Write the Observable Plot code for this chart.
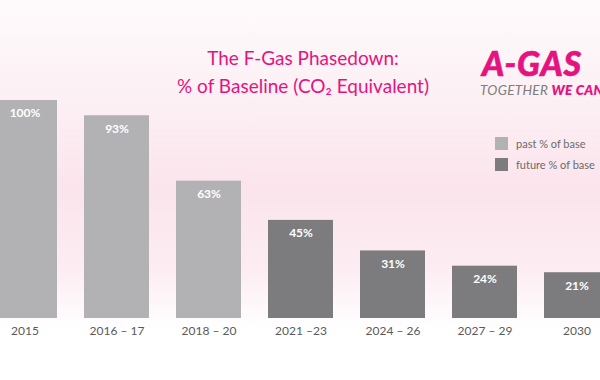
<!DOCTYPE html>
<html>
<head>
<meta charset="utf-8">
<script src="https://cdn.jsdelivr.net/npm/d3@7"></script>
<script src="https://cdn.jsdelivr.net/npm/@observablehq/plot@0.6"></script>
<style>
  html, body { margin: 0; padding: 0; }
  #wrap {
    position: relative; width: 600px; height: 380px; overflow: hidden;
    background: linear-gradient(180deg, #fefafb 0px, #fcf1f5 90px, #fbe4ec 190px, #fcedf2 270px, #ffffff 330px, #ffffff 380px);
    font-family: Lato, "Open Sans", sans-serif;
  }
  #wrap svg { position: absolute; left: 0; top: 0; background: transparent !important; }
  .title { position: absolute; left: 0; width: 606px; text-align: center; color: #e5137f; font-size: 19px; line-height: 1; }
  .logo { position: absolute; left: 482px; top: 46px; color: #e5137f; font-weight: 900; font-style: italic; font-size: 34px; line-height: 1; letter-spacing: 0.8px; white-space: nowrap; -webkit-text-stroke: 0.6px #e5137f; }
  .tag { position: absolute; left: 480px; top: 84px; font-style: italic; font-size: 13.5px; line-height: 1; white-space: nowrap; color: #7d7d7d; letter-spacing: 0.3px; }
  .tag b { color: #e5137f; font-weight: 800; }
  .leg { position: absolute; left: 495px; font-size: 11px; color: #6a6a6a; line-height: 13px; white-space: nowrap; }
  .leg span.sw { display: inline-block; width: 13px; height: 13px; vertical-align: top; margin-right: 8px; }
</style>
</head>
<body>
<div id="wrap">
  <div class="title" style="top:48px">The F-Gas Phasedown:</div>
  <div class="title" style="top:76px">% of Baseline (CO₂ Equivalent)</div>
  <div class="logo">A-GAS</div>
  <div class="tag">TOGETHER <b>WE CAN</b></div>
  <div class="leg" style="top:137px"><span class="sw" style="background:#b2b2b4"></span>past % of base</div>
  <div class="leg" style="top:158px"><span class="sw" style="background:#7c7c7e"></span>future % of base</div>
</div>
<script>
const periods = ["2015", "2016 – 17", "2018 – 20", "2021 –23", "2024 – 26", "2027 – 29", "2030"];
const percents = [100, 93, 63, 45, 31, 24, 21];
const phases = ["past", "past", "past", "future", "future", "future", "future"];

const data = periods.map((p, i) => ({period: p, value: percents[i], phase: phases[i]}));

const chart = Plot.plot({
  width: 600,
  height: 380,
  marginTop: 0,
  marginBottom: 62,
  marginLeft: 0,
  marginRight: 0,
  style: {background: "transparent", fontFamily: "Lato, 'Open Sans', sans-serif", overflow: "visible"},
  x: {domain: periods, range: [-23.25, 624.25], paddingInner: 0.297, paddingOuter: 0.1486, label: null},
  y: {domain: [0, 100], range: [318, 100], axis: null},
  color: {domain: ["past", "future"], range: ["#b2b2b4", "#7c7c7e"]},
  marks: [
    Plot.barY(data, {x: "period", y: "value", fill: "phase"}),
    Plot.text(data, {x: "period", y: "value", text: d => d.value + "%", dy: 13, fill: "white", fontWeight: "bold", fontSize: 12}),
    Plot.axisX({tickSize: 0, tickPadding: 8, fontSize: 12, color: "#5a5a5a", label: null})
  ]
});
document.getElementById("wrap").prepend(chart);
</script>
</body>
</html>
